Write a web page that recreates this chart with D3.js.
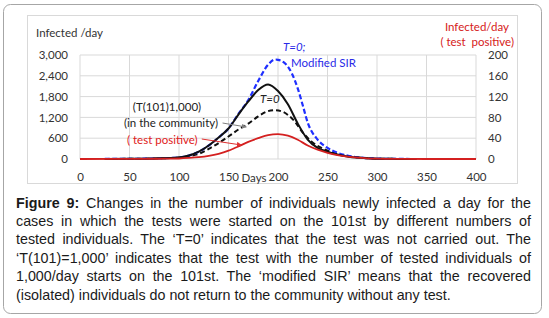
<!DOCTYPE html>
<html lang="en">
<head>
<meta charset="UTF-8">
<title>Figure 9</title>
<script src="https://d3js.org/d3.v7.min.js"></script>
<style>
  body { margin: 0; background: #fff; }
  #wrap { position: relative; width: 549px; height: 318px; }
  svg { position: absolute; left: 0; top: 0; }
  .axis text { font-family: Lato, sans-serif; font-size: 11.5px; fill: #333; }
  .note { font-family: Lato, sans-serif; font-size: 11.5px; }
  #caption {
    position: absolute; left: 16px; top: 193.5px; width: 515px;
    font-family: "Liberation Sans", Arial, sans-serif; font-size: 14.3px;
    line-height: 18.4px; color: #1a1a1a;
  }
  #caption div { white-space: nowrap; text-align: justify; text-align-last: justify; }
  #caption div.last { text-align-last: left; }
</style>
</head>
<body>
<div id="wrap"></div>
<script>
// values: [day, infected per day]
const t0Curve = [
  [25, 2], [50, 5], [75, 15], [100, 45], [110, 100], [120, 210], [130, 390], [140, 620],
  [150, 880], [160, 1280], [170, 1660], [180, 1990], [190, 2150], [200, 1960], [210, 1580],
  [220, 1020], [230, 560], [240, 320], [250, 210], [260, 130], [270, 75], [280, 40],
  [290, 20], [300, 10], [320, 3], [340, 0]
];
const modifiedSir = [
  [25, 2], [50, 5], [75, 15], [100, 45], [110, 100], [120, 210], [130, 390], [140, 620],
  [150, 880], [160, 1300], [170, 1700], [180, 2250], [190, 2720], [197, 2870], [200, 2860],
  [207, 2760], [214, 2470], [220, 2030], [225, 1550], [230, 1050], [240, 560], [250, 320],
  [260, 180], [270, 100], [280, 50], [290, 25], [300, 12], [320, 3], [340, 0]
];
const community = [
  [25, 2], [50, 5], [75, 15], [100, 42], [110, 85], [120, 150], [130, 290], [140, 460],
  [150, 650], [160, 850], [170, 1020], [180, 1230], [190, 1380], [197, 1410], [205, 1360],
  [210, 1270], [217, 1080], [224, 800], [234, 500], [247, 280], [256, 175], [270, 80],
  [280, 45], [290, 22], [300, 10], [320, 3], [340, 0]
];
// test positive, right axis
const testPositive = [
  [0, 0], [50, 0.2], [80, 0.5], [100, 1], [110, 2], [120, 3.5], [130, 6], [140, 10],
  [150, 16], [160, 24], [170, 33], [180, 40], [190, 46], [200, 48], [210, 45], [220, 37],
  [230, 26], [240, 18], [250, 12], [260, 7.5], [270, 4.5], [280, 2.5], [290, 1.3],
  [300, 0.7], [320, 0.2], [350, 0], [400, 0]
];
const xTicks = [0, 50, 100, 150, 200, 250, 300, 350, 400];
const leftTicks = [0, 600, 1200, 1800, 2400, 3000];
const rightTicks = [0, 40, 80, 120, 160, 200];
const captionLines = [
  "Changes in the number of individuals newly infected a day for the",
  "cases in which the tests were started on the 101st by different numbers of",
  "tested individuals. The \u2018T=0\u2019 indicates that the test was not carried out. The",
  "\u2018T(101)=1,000\u2019 indicates that the test with the number of tested individuals of",
  "1,000/day starts on the 101st. The \u2018modified SIR\u2019 means that the recovered",
  "(isolated) individuals do not return to the community without any test."
];

const W = 549, H = 318;
const wrap = d3.select("#wrap");
const svg = wrap.append("svg").attr("width", W).attr("height", H);

// borders
svg.append("rect").attr("x", 3.5).attr("y", 4.5).attr("width", 538).attr("height", 309)
  .attr("rx", 7).attr("fill", "#fff").attr("stroke", "#a6a6a6");
svg.append("rect").attr("x", 27.5).attr("y", 15.5).attr("width", 490).attr("height", 168)
  .attr("fill", "#fff").attr("stroke", "#d9d9d9");

const x = d3.scaleLinear().domain([0, 400]).range([80, 476]);
const yL = d3.scaleLinear().domain([0, 3000]).range([159, 55]);
const yR = d3.scaleLinear().domain([0, 200]).range([159, 55]);

// grid
svg.append("g").selectAll("line").data(xTicks).join("line")
  .attr("x1", d => x(d)).attr("x2", d => x(d)).attr("y1", yL(3000)).attr("y2", yL(0))
  .attr("stroke", "#d9d9d9");
svg.append("g").selectAll("line").data(leftTicks).join("line")
  .attr("x1", x(0)).attr("x2", x(400)).attr("y1", d => yL(d)).attr("y2", d => yL(d))
  .attr("stroke", "#d9d9d9");

// axes (labels only)
const axL = svg.append("g").attr("class", "axis").attr("transform", "translate(68,0)")
  .call(d3.axisLeft(yL).tickValues(leftTicks).tickSize(0).tickPadding(0).tickFormat(d3.format(",")));
const axR = svg.append("g").attr("class", "axis").attr("transform", "translate(488,0)")
  .call(d3.axisRight(yR).tickValues(rightTicks).tickSize(0).tickPadding(0));
const axB = svg.append("g").attr("class", "axis").attr("transform", "translate(0,173)")
  .call(d3.axisBottom(x).tickValues(xTicks).tickSize(0).tickPadding(0));
[axL, axR, axB].forEach(a => a.select(".domain").remove());

svg.append("text").attr("class", "note").attr("x", 254).attr("y", 181.5)
  .attr("text-anchor", "middle").attr("fill", "#333").text("Days");
svg.append("text").attr("class", "note").attr("x", 36).attr("y", 37)
  .attr("fill", "#333").text("Infected /day");
svg.append("text").attr("class", "note").attr("x", 509).attr("y", 31)
  .attr("text-anchor", "end").attr("fill", "#d62020").text("Infected/day");
svg.append("text").attr("class", "note").attr("x", 514).attr("y", 46)
  .attr("text-anchor", "end").attr("fill", "#d62020").attr("xml:space", "preserve")
  .text("( test  positive)");

// curves
const lineL = d3.line().x(d => x(d[0])).y(d => yL(d[1])).curve(d3.curveMonotoneX);
const lineR = d3.line().x(d => x(d[0])).y(d => yR(d[1])).curve(d3.curveMonotoneX);

svg.append("path").datum(community).attr("d", lineL).attr("fill", "none")
  .attr("stroke", "#111").attr("stroke-width", 2).attr("stroke-dasharray", "5,3");
svg.append("path").datum(modifiedSir).attr("d", lineL).attr("fill", "none")
  .attr("stroke", "#1f2fff").attr("stroke-width", 2.2).attr("stroke-dasharray", "5,2.5");
svg.append("path").datum(t0Curve).attr("d", lineL).attr("fill", "none")
  .attr("stroke", "#111").attr("stroke-width", 2);
svg.append("path").datum(testPositive).attr("d", lineR).attr("fill", "none")
  .attr("stroke", "#d42020").attr("stroke-width", 1.8);

// annotations
const defs = svg.append("defs");
[["arrGray", "#808080"], ["arrRed", "#e03030"]].forEach(([id, c]) => {
  defs.append("marker").attr("id", id).attr("viewBox", "0 0 10 10").attr("refX", 9).attr("refY", 5)
    .attr("markerWidth", 5).attr("markerHeight", 5).attr("orient", "auto")
    .append("path").attr("d", "M0,0L10,5L0,10z").attr("fill", c);
});
svg.append("line").attr("x1", x(144)).attr("y1", 123).attr("x2", x(168)).attr("y2", 127)
  .attr("stroke", "#808080").attr("stroke-width", 1).attr("marker-end", "url(#arrGray)");
svg.append("line").attr("x1", x(123)).attr("y1", 139).attr("x2", x(163)).attr("y2", 145)
  .attr("stroke", "#e03030").attr("stroke-width", 1).attr("marker-end", "url(#arrRed)");

svg.append("text").attr("class", "note").attr("x", 167).attr("y", 111)
  .attr("text-anchor", "middle").attr("fill", "#222").text("(T(101)1,000)");
svg.append("text").attr("class", "note").attr("x", 171).attr("y", 127)
  .attr("text-anchor", "middle").attr("fill", "#222").text("(in the community)");
svg.append("text").attr("class", "note").attr("x", 127).attr("y", 144)
  .attr("fill", "#e02020").text("( test positive)");
svg.append("text").attr("class", "note").attr("x", 260).attr("y", 103)
  .attr("fill", "#222").style("font-style", "italic").text("T=0");
svg.append("text").attr("class", "note").attr("x", 283).attr("y", 51)
  .attr("fill", "#2a2ae8").style("font-style", "italic").text("T=0;");
svg.append("text").attr("class", "note").attr("x", 291).attr("y", 67)
  .attr("fill", "#2a2ae8").text("Modified SIR");

// caption
const cap = wrap.append("div").attr("id", "caption");
captionLines.forEach((t, i) => {
  const row = cap.append("div").classed("last", i === captionLines.length - 1);
  if (i === 0) row.append("b").text("Figure 9:");
  row.append("span").text(i === 0 ? " " + t : t);
});
</script>
</body>
</html>
